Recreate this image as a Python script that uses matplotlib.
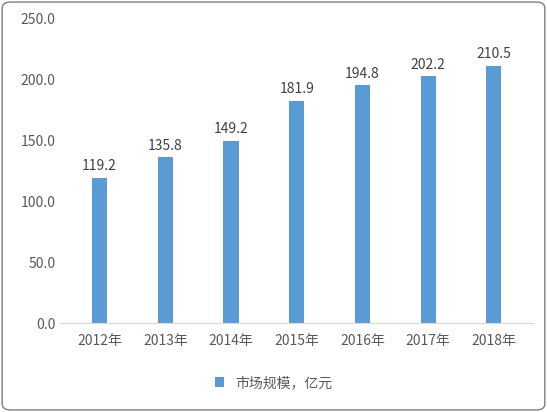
import matplotlib.pyplot as plt
from matplotlib.patches import FancyBboxPatch

plt.rcParams['font.family'] = ['Noto Sans CJK SC', 'DejaVu Sans']

years = ["2012年", "2013年", "2014年", "2015年", "2016年", "2017年", "2018年"]
market_size = [119.2, 135.8, 149.2, 181.9, 194.8, 202.2, 210.5]

fig = plt.figure(figsize=(5.47, 4.12), dpi=100)
border = FancyBboxPatch((0.004, 0.005), 0.992, 0.99, boxstyle="round,pad=0,rounding_size=0.015",
                        transform=fig.transFigure, facecolor="none", edgecolor="#7f7f7f",
                        linewidth=1, zorder=-10)
fig.patches.append(border)

ax = fig.add_axes([0.11, 0.216, 0.865, 0.74])
ax.set_facecolor("none")
ax.set_zorder(5)
x = range(len(years))
bars = ax.bar(x, market_size, width=0.23, color="#5B9BD5", label="市场规模，亿元")
for xi, v in zip(x, market_size):
    ax.text(xi, v + 4, f"{v:.1f}", ha="center", va="bottom", fontsize=10, color="#404040")

ax.set_ylim(0, 250)
ax.set_xlim(-0.6, len(years) - 0.4)
ax.set_yticks([0, 50, 100, 150, 200, 250])
ax.set_yticklabels([f"{t:.1f}" for t in [0, 50, 100, 150, 200, 250]])
ax.set_xticks(list(x))
ax.set_xticklabels(years)
ax.tick_params(axis="both", length=0, labelsize=10, labelcolor="#595959")
ax.tick_params(axis="x", pad=8)
for s in ["top", "right", "left"]:
    ax.spines[s].set_visible(False)
ax.spines["bottom"].set_color("#d9d9d9")

fig.legend(handles=[bars], labels=["市场规模，亿元"], loc="center", bbox_to_anchor=(0.5, 0.07),
           frameon=False, fontsize=10, handlelength=0.7, handleheight=0.7, labelcolor="#595959")

fig.savefig("out.png", dpi=100)
